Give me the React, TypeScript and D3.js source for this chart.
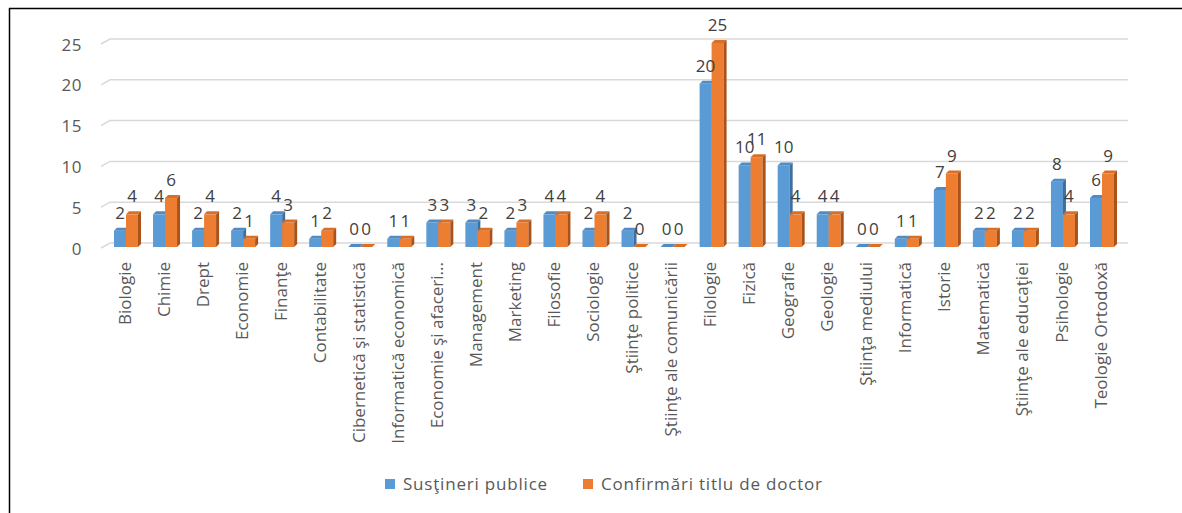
import React from "react";
import * as d3 from "d3";

const categories = [
  "Biologie", "Chimie", "Drept", "Economie", "Finanţe", "Contabilitate",
  "Cibernetică şi statistică", "Informatică economică", "Economie şi afaceri...",
  "Management", "Marketing", "Filosofie", "Sociologie", "Ştiinţe politice",
  "Ştiinţe ale comunicării", "Filologie", "Fizică", "Geografie", "Geologie",
  "Ştiinţa mediului", "Informatică", "Istorie", "Matematică",
  "Ştiinţe ale educaţiei", "Psihologie", "Teologie Ortodoxă",
];
const sustineri = [2, 4, 2, 2, 4, 1, 0, 1, 3, 3, 2, 4, 2, 2, 0, 20, 10, 10, 4, 0, 1, 7, 2, 2, 8, 6];
const confirmari = [4, 6, 4, 1, 3, 2, 0, 1, 3, 2, 3, 4, 4, 0, 0, 25, 11, 4, 4, 0, 1, 9, 2, 2, 4, 9];
const yTicks = [0, 5, 10, 15, 20, 25];
const seriesNames = ["Susţineri publice", "Confirmări titlu de doctor"];

const W = 1182, H = 513;
const FONT = "'Open Sans', 'Noto Sans', sans-serif";
const colors = [
  { front: "#5B9BD5", top: "#4F8CC6", side: "#3F6F9F" },
  { front: "#ED7D31", top: "#DB6E25", side: "#A9531A" },
];

export default function App() {
  const x = d3.scaleBand<string>().domain(categories).range([110, 110 + 26 * 39.04]).padding(0);
  const y = d3.scaleLinear().domain([0, 25]).range([247, 43]);
  const bw = 12, dx = 3, dy = 3;

  const bar = (x0: number, v: number, c: typeof colors[0], key: string) => {
    const yt = y(v), yb = y(0);
    return (
      <g key={key}>
        {v > 0 && <rect x={x0} y={yt} width={bw} height={yb - yt} fill={c.front} />}
        <polygon points={`${x0},${yt} ${x0 + dx},${yt - dy} ${x0 + bw + dx},${yt - dy} ${x0 + bw},${yt}`} fill={c.top} />
        <polygon points={`${x0 + bw},${yt} ${x0 + bw + dx},${yt - dy} ${x0 + bw + dx},${yb - dy} ${x0 + bw},${yb}`} fill={c.side} />
      </g>
    );
  };

  return (
    <svg width={W} height={H} style={{ position: "absolute", left: 0, top: 0, background: "#fff" }} fontFamily={FONT}>
      <rect x={0} y={0} width={W} height={H} fill="#fff" />
      <line x1={9} y1={8.5} x2={W} y2={8.5} stroke="#000" strokeWidth={1.5} />
      <line x1={9.5} y1={8} x2={9.5} y2={H} stroke="#000" strokeWidth={1.5} />
      {/* gridlines */}
      {yTicks.map((t) => (
        <g key={t}>
          <polyline
            points={`101,${y(t) + 1} 110,${y(t) - 4} 1128,${y(t) - 4}`}
            fill="none" stroke="#D9D9D9" strokeWidth={1.5}
          />
          <text x={82} y={y(t) + 3} textAnchor="end" dominantBaseline="middle" fontSize={17} letterSpacing={0.5} fill="#595959">{t}</text>
        </g>
      ))}
      {/* bars */}
      {categories.map((c, i) => {
        const b = (x(c) as number) + 4;
        return (
          <g key={c}>
            {bar(b, sustineri[i], colors[0], "s")}
            {bar(b + bw, confirmari[i], colors[1], "c")}
          </g>
        );
      })}
      {/* data labels */}
      {categories.map((c, i) => {
        const b = (x(c) as number) + 4;
        return (
          <g key={"l" + c} fontSize={17} fill="#404040" textAnchor="middle">
            <text x={b + bw / 2} y={y(sustineri[i]) - 12}>{sustineri[i]}</text>
            <text x={b + bw + bw / 2} y={y(confirmari[i]) - 12}>{confirmari[i]}</text>
          </g>
        );
      })}
      {/* x axis labels */}
      {categories.map((c) => {
        const cx = (x(c) as number) + 16;
        return (
          <text key={"x" + c} transform={`translate(${cx},262) rotate(-90)`} textAnchor="end"
            dominantBaseline="middle" fontSize={17} fill="#595959">{c}</text>
        );
      })}
      {/* legend */}
      <rect x={385} y={479} width={10} height={10} fill={colors[0].front} />
      <text x={403} y={485} dominantBaseline="middle" fontSize={17} letterSpacing={0.8} fill="#595959">{seriesNames[0]}</text>
      <rect x={583} y={479} width={10} height={10} fill={colors[1].front} />
      <text x={601} y={485} dominantBaseline="middle" fontSize={17} letterSpacing={0.8} fill="#595959">{seriesNames[1]}</text>
    </svg>
  );
}
